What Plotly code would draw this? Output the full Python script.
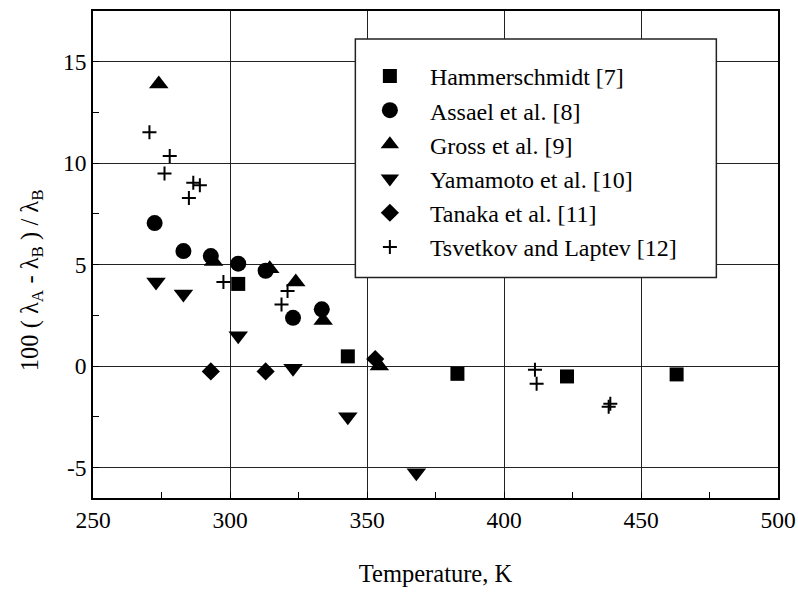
import plotly.graph_objects as go

# ---------------- data ----------------
hammer_T = [303, 343, 383, 423, 463]
hammer_v = [4.05, 0.48, -0.38, -0.51, -0.41]

assael_T = [272.5, 283, 293, 303, 313, 323, 333.5]
assael_v = [7.05, 5.67, 5.42, 5.05, 4.70, 2.38, 2.80]

gross_T = [274, 294, 314.5, 324, 334, 354.5]
gross_v = [13.9, 5.15, 4.8, 4.15, 2.25, 0.0]

yama_T = [273, 283, 303, 323, 343, 368]
yama_v = [4.15, 3.55, 1.5, -0.1, -2.5, -5.25]

tanaka_T = [293, 313, 353]
tanaka_v = [-0.26, -0.26, 0.35]

tsvet_T = [270.6, 276.1, 278.0, 285.0, 286.6, 289.0, 297.6, 318.8, 321.0,
           411.3, 411.9, 438.2, 438.8]
tsvet_v = [11.53, 9.49, 10.35, 8.29, 9.03, 8.91, 4.14, 3.04, 3.70,
           -0.18, -0.87, -2.0, -1.85]

names = ["Hammerschmidt [7]", "Assael et al. [8]", "Gross et al. [9]",
         "Yamamoto et al. [10]", "Tanaka et al. [11]", "Tsvetkov and Laptev [12]"]

x_ticks = [250, 300, 350, 400, 450, 500]
x_ticktext = ["250", "300", "350", "400", "450", "500"]
y_ticks = [-5, 0, 5, 10, 15]
y_ticktext = ["-5", "0", "5", "10", "15"]

FONT = "Liberation Serif, Times New Roman, serif"

series = [
    (hammer_T, hammer_v, "square", 14),
    (assael_T, assael_v, "circle", 16),
    (gross_T, gross_v, "triangle-up", 17),
    (yama_T, yama_v, "triangle-down", 17),
    (tanaka_T, tanaka_v, "diamond", 14),
    (tsvet_T, tsvet_v, "cross-thin", 10),
]

fig = go.Figure()
for i, ((T, v, sym, sz), nm) in enumerate(zip(series, names)):
    marker = dict(symbol=sym, size=sz, color="black")
    if sym == "cross-thin":
        marker["line"] = dict(color="black", width=2)
    else:
        marker["line"] = dict(width=0)
    fig.add_trace(go.Scatter(x=T, y=v, mode="markers", name=nm, marker=marker,
                             legendgroup=f"g{i}"))

axis_common = dict(
    showline=True, linecolor="black", linewidth=1.5, mirror=True,
    showgrid=True, gridcolor="#222222", gridwidth=1,
    zeroline=False, automargin=False,
    ticks="inside", ticklen=6, tickcolor="black", tickwidth=1,
    tickfont=dict(family=FONT, size=23.5, color="black"),
)

fig.update_xaxes(range=[250, 500], tickmode="array", tickvals=x_ticks, ticktext=x_ticktext,
                 minor=dict(dtick=25, ticks="inside", ticklen=6, tickcolor="black",
                            showgrid=False),
                 title=dict(text="Temperature, K", font=dict(family=FONT, size=24.5, color="black"),
                            standoff=33),
                 **axis_common)
fig.update_yaxes(range=[-6.5, 17.5], tickmode="array", tickvals=y_ticks, ticktext=y_ticktext,
                 minor=dict(dtick=2.5, ticks="inside", ticklen=6, tickcolor="black",
                            showgrid=False),
                 **axis_common)

# legend frame (white box covering grid)
fig.add_shape(type="rect", xref="paper", yref="paper",
              x0=0.383, x1=0.910, y0=0.453, y1=0.9425,
              line=dict(color="#222222", width=1.5), fillcolor="white", layer="above")

fig.add_annotation(
    text="100 ( λ<sub>A</sub> - λ<sub>B</sub> ) / λ<sub>B</sub>",
    xref="paper", yref="paper", x=-0.09, y=0.448, xanchor="center", yanchor="middle",
    textangle=-90, showarrow=False, font=dict(family=FONT, size=24.5, color="black"),
)

fig.update_layout(
    width=798, height=596,
    margin=dict(l=93, r=20, t=11, b=98),
    paper_bgcolor="white", plot_bgcolor="white",
    font=dict(family=FONT, color="black"),
    showlegend=True,
    legend=dict(x=0.375, y=0.912, xanchor="left", yanchor="top",
                bgcolor="rgba(0,0,0,0)", borderwidth=0,
                font=dict(family=FONT, size=24, color="black"),
                traceorder="grouped", tracegroupgap=0, itemwidth=70),
)

fig.write_html("out.html",
               config={"displayModeBar": False},
               post_script="document.body.style.margin='0';document.body.style.overflow='hidden';")
